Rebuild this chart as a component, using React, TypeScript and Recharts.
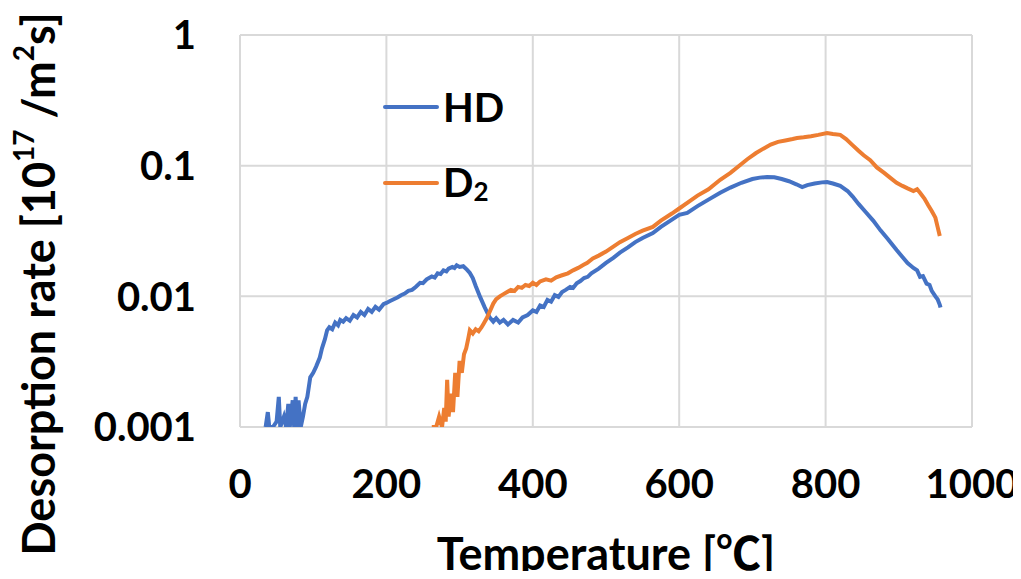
import React from "react";
import { LineChart, Line, XAxis, YAxis, CartesianGrid, Legend } from "recharts";

const xTicks = [0, 200, 400, 600, 800, 1000];
const yTicks = [0.001, 0.01, 0.1, 1];

const hdTemp = [35, 38, 40, 45, 50, 53, 55, 60, 63, 66, 68, 72, 74, 76, 78, 80, 83, 86, 89, 92, 96, 100, 104, 109, 112, 116, 119, 122, 126, 130, 134, 137, 141, 145, 150, 155, 160, 165, 170, 175, 180, 185, 190, 196, 200, 205, 210, 215, 220, 225, 230, 235, 240, 246, 250, 255, 262, 266, 270, 274, 278, 282, 285, 290, 293, 296, 300, 305, 310, 314, 318, 322, 328, 334, 341, 346, 350, 355, 360, 366, 373, 380, 386, 393, 400, 405, 410, 415, 420, 425, 430, 435, 440, 445, 451, 455, 460, 465, 470, 475, 480, 490, 500, 510, 519, 530, 540, 550, 564, 575, 588, 600, 611, 625, 640, 656, 670, 685, 700, 710, 720, 730, 740, 750, 760, 768, 775, 785, 795, 802, 810, 820, 830, 837, 845, 855, 865, 875, 885, 897, 905, 912, 920, 925, 929, 933, 938, 942, 945, 950, 953, 956, 957];
const hdRate = [0.001, 0.0013, 0.001, 0.001, 0.0011, 0.0017, 0.001, 0.0012, 0.001, 0.0015, 0.001, 0.0016, 0.001, 0.0017, 0.001, 0.0016, 0.001, 0.0012, 0.0015, 0.0017, 0.0024, 0.0026, 0.0029, 0.0034, 0.004, 0.0047, 0.0055, 0.0058, 0.0056, 0.0063, 0.006, 0.0066, 0.0064, 0.0068, 0.0065, 0.0072, 0.0069, 0.0076, 0.0072, 0.008, 0.0076, 0.0083, 0.0079, 0.0087, 0.0089, 0.0092, 0.0095, 0.0098, 0.0102, 0.0105, 0.011, 0.0112, 0.0118, 0.0127, 0.0126, 0.0135, 0.0142, 0.0139, 0.015, 0.0148, 0.0158, 0.0155, 0.0163, 0.0168, 0.0165, 0.0173, 0.0168, 0.017, 0.016, 0.0151, 0.0138, 0.012, 0.0099, 0.0083, 0.0069, 0.0064, 0.0068, 0.0063, 0.0066, 0.0061, 0.0066, 0.0063, 0.0069, 0.0072, 0.0078, 0.0076, 0.0085, 0.0083, 0.0094, 0.0091, 0.0102, 0.0099, 0.0108, 0.0112, 0.0118, 0.0116, 0.0126, 0.0131, 0.0138, 0.0141, 0.015, 0.0163, 0.018, 0.0197, 0.0216, 0.0237, 0.026, 0.028, 0.0305, 0.034, 0.038, 0.042, 0.0435, 0.049, 0.055, 0.062, 0.068, 0.074, 0.079, 0.081, 0.082, 0.0815, 0.079, 0.076, 0.072, 0.0685, 0.071, 0.073, 0.0745, 0.075, 0.073, 0.07, 0.064, 0.058, 0.051, 0.044, 0.038, 0.032, 0.0275, 0.0226, 0.02, 0.018, 0.0165, 0.0158, 0.0141, 0.0143, 0.0125, 0.0122, 0.011, 0.01, 0.0095, 0.0086, 0.0082];

const d2Temp = [262, 268, 272, 276, 279, 281, 283, 285, 288, 291, 294, 297, 300, 303, 306, 309, 312, 314, 318, 322, 326, 330, 333, 337, 341, 346, 350, 355, 360, 365, 370, 375, 380, 385, 390, 395, 400, 405, 410, 418, 425, 432, 440, 448, 455, 462, 470, 474, 482, 490, 500, 510, 519, 530, 540, 550, 564, 575, 590, 600, 611, 625, 640, 656, 670, 685, 693, 705, 715, 725, 735, 745, 755, 761, 770, 780, 790, 802, 810, 820, 828, 836, 845, 852, 861, 870, 880, 888, 897, 905, 912, 920, 925, 929, 935, 940, 945, 950, 953, 956];
const d2Rate = [0.001, 0.001, 0.0012, 0.001, 0.0014, 0.0011, 0.0023, 0.0012, 0.0018, 0.0013, 0.0026, 0.0017, 0.0032, 0.0026, 0.0036, 0.004, 0.0048, 0.0055, 0.0052, 0.0056, 0.0054, 0.0058, 0.0062, 0.0068, 0.0076, 0.0088, 0.0095, 0.01, 0.0104, 0.0108, 0.0112, 0.011, 0.0118, 0.0116, 0.0122, 0.012, 0.0127, 0.0122, 0.013, 0.0135, 0.0132, 0.014, 0.0145, 0.015, 0.0158, 0.0165, 0.0175, 0.018, 0.0195, 0.0205, 0.022, 0.024, 0.026, 0.028, 0.03, 0.0318, 0.034, 0.038, 0.043, 0.047, 0.052, 0.059, 0.066, 0.078, 0.088, 0.103, 0.112, 0.125, 0.135, 0.145, 0.152, 0.156, 0.16, 0.163, 0.165, 0.168, 0.172, 0.178, 0.175, 0.172, 0.16, 0.145, 0.13, 0.12, 0.11, 0.097, 0.088, 0.081, 0.074, 0.07, 0.067, 0.064, 0.066, 0.062, 0.056, 0.05, 0.045, 0.04, 0.034, 0.029];

const hdData = hdTemp.map((t, i) => ({ t, v: hdRate[i] }));
const d2Data = d2Temp.map((t, i) => ({ t, v: d2Rate[i] }));

const FONT = "Lato, 'Noto Sans CJK JP', sans-serif";
const BLUE = "#4472C4";
const ORANGE = "#ED7D31";

const YLabel = () => {
  const cx = 38;
  const cy = 284;
  return (
    <text
      x={cx}
      y={cy}
      transform={`rotate(-90 ${cx} ${cy})`}
      textAnchor="middle"
      dominantBaseline="central"
      fontFamily={FONT}
      fontWeight={700}
      fontSize={45}
      fill="#000"
    >
      Desorption rate [10<tspan fontSize={28} dy={-15}>17</tspan>
      <tspan dy={15}> /m</tspan>
      <tspan fontSize={28} dy={-15}>2</tspan>
      <tspan dy={15}>s]</tspan>
    </text>
  );
};

const renderLegend = () => {
  const items = [
    { color: BLUE, label: <span>HD</span> },
    { color: ORANGE, label: <span>D<sub style={{ fontSize: 26, verticalAlign: "-4px" }}>2</sub></span> },
  ];
  return (
    <div style={{ fontFamily: FONT, fontWeight: 700, fontSize: 40, color: "#000", lineHeight: 1 }}>
      {items.map((it, i) => (
        <div key={i} style={{ display: "flex", alignItems: "center", height: 76 }}>
          <svg width={60} height={10} style={{ marginRight: 3 }}>
            <line x1={5} y1={5} x2={57} y2={5} stroke={it.color} strokeWidth={4} strokeLinecap="round" />
          </svg>
          {it.label}
        </div>
      ))}
    </div>
  );
};

export default function App() {
  return (
    <div style={{ margin: -8 }}>
      <LineChart
        width={1021}
        height={579}
        margin={{ top: 35, right: 49, bottom: 9, left: 90 }}
      >
        <CartesianGrid stroke="#d9d9d9" strokeWidth={2} />
        <XAxis
          type="number"
          dataKey="t"
          domain={[0, 1000]}
          ticks={xTicks}
          axisLine={false}
          tickLine={false}
          height={143}
          tick={{ fontFamily: FONT, fontWeight: 700, fontSize: 40, fill: "#000" }}
          tickMargin={37}
          label={{
            value: "Temperature [℃]",
            position: "insideBottom",
            offset: 0,
            style: { fontFamily: FONT, fontWeight: 700, fontSize: 45, fill: "#000" },
          }}
        />
        <YAxis
          type="number"
          scale="log"
          domain={[0.001, 1]}
          ticks={yTicks}
          allowDataOverflow
          axisLine={false}
          tickLine={false}
          width={150}
          tickMargin={38}
          tickFormatter={(v: number) => String(v)}
          tick={{ fontFamily: FONT, fontWeight: 700, fontSize: 40, fill: "#000" }}
          label={<YLabel />}
        />
        <Legend
          content={renderLegend}
          layout="vertical"
          align="center"
          verticalAlign="middle"
          wrapperStyle={{ position: "absolute", left: 380, top: 69, width: 200 }}
        />
        <Line
          data={hdData}
          dataKey="v"
          name="HD"
          stroke={BLUE}
          strokeWidth={4}
          dot={false}
          isAnimationActive={false}
          type="linear"
        />
        <Line
          data={d2Data}
          dataKey="v"
          name="D2"
          stroke={ORANGE}
          strokeWidth={4}
          dot={false}
          isAnimationActive={false}
          type="linear"
        />
      </LineChart>
    </div>
  );
}
